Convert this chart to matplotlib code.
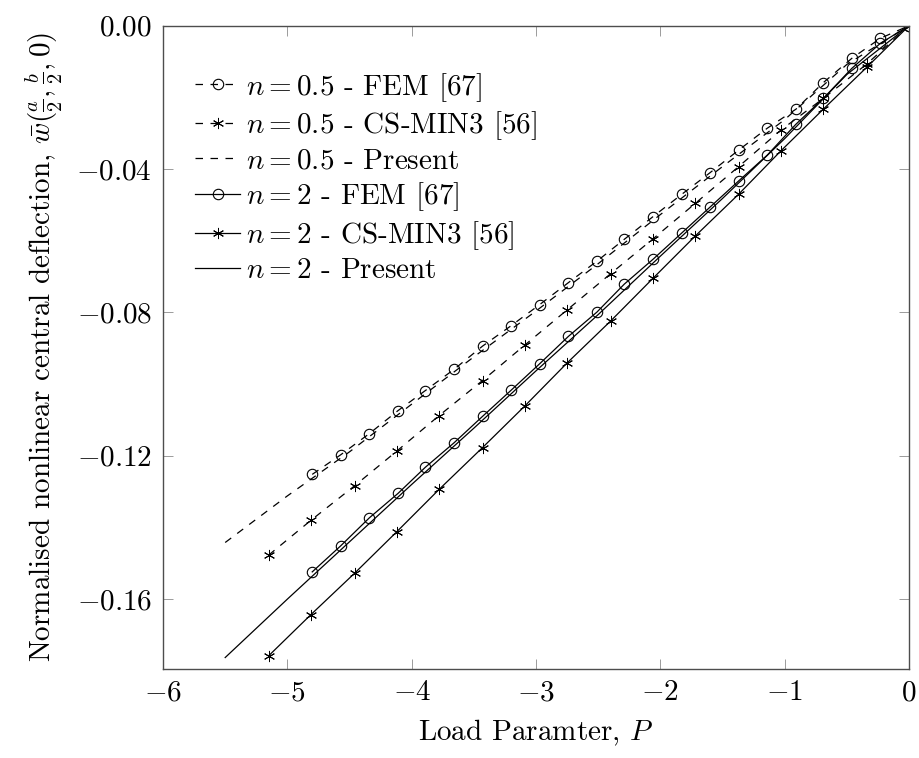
import matplotlib
matplotlib.use("Agg")
import matplotlib.pyplot as plt
from matplotlib.ticker import FuncFormatter

plt.rcParams["font.family"] = "serif"
plt.rcParams["font.serif"] = ["cmr10"]
plt.rcParams["mathtext.fontset"] = "cm"
plt.rcParams["axes.formatter.use_mathtext"] = True

# load parameter for FEM [67] points
p_fem = [-4.8, -4.57, -4.34, -4.11, -3.89, -3.66, -3.43, -3.2, -2.97, -2.74, -2.51,
         -2.29, -2.06, -1.83, -1.6, -1.37, -1.14, -0.91, -0.69, -0.46, -0.23, 0.0]
w_fem_05 = [-0.1252, -0.1197, -0.1138, -0.1074, -0.1018, -0.0959, -0.0894, -0.0837,
            -0.0778, -0.0717, -0.0657, -0.0596, -0.0533, -0.0471, -0.0410, -0.0347,
            -0.0286, -0.0233, -0.0159, -0.0091, -0.0035, 0.0]
w_fem_2 = [-0.1524, -0.1451, -0.1373, -0.1305, -0.1232, -0.1164, -0.1090, -0.1017,
           -0.0943, -0.0867, -0.0799, -0.0721, -0.0652, -0.0579, -0.0506, -0.0433,
           -0.0361, -0.0275, -0.0203, -0.0119, -0.0049, 0.0]

# load parameter for CS-MIN3 [56] points
p_cs = [-5.15, -4.81, -4.46, -4.12, -3.78, -3.43, -3.09, -2.75, -2.40, -2.06, -1.72,
        -1.37, -1.03, -0.69, -0.34, 0.0]
w_cs_05 = [-0.1477, -0.1380, -0.1284, -0.1187, -0.1088, -0.0990, -0.0891, -0.0793,
           -0.0692, -0.0595, -0.0496, -0.0393, -0.0291, -0.0203, -0.0107, 0.0]
w_cs_2 = [-0.1758, -0.1643, -0.1528, -0.1412, -0.1294, -0.1177, -0.1061, -0.0941,
          -0.0824, -0.0705, -0.0587, -0.0470, -0.0349, -0.0233, -0.0116, 0.0]

# present solution
p_present = [-5.5, -5.0, -4.5, -4.0, -3.5, -3.0, -2.5, -2.0, -1.5, -1.0, -0.5, 0.0]
w_present_05 = [-0.1442, -0.1312, -0.1189, -0.1056, -0.0924, -0.0796, -0.0664,
                -0.0527, -0.0393, -0.0262, -0.0108, 0.0]
w_present_2 = [-0.1763, -0.1600, -0.1440, -0.1280, -0.1123, -0.0963, -0.0806,
               -0.0643, -0.0482, -0.0315, -0.0136, 0.0]

FS = 21

fig = plt.figure(figsize=(9.2, 7.58), dpi=100)
ax = fig.add_axes([0.1772, 0.1174, 0.8109, 0.8487])

lw = 0.9
dash = (6, 6)
star = (6, 2, 0)
circ = dict(marker="o", markersize=7.5, markerfacecolor="none", markeredgecolor="black",
            markeredgewidth=0.8)
ast = dict(marker=star, markersize=8, markeredgecolor="black", markeredgewidth=0.7)

ax.plot(p_fem, w_fem_05, color="black", lw=lw, dashes=dash,
        label=r"$n = 0.5$ - FEM [67]", **circ)
ax.plot(p_cs, w_cs_05, color="black", lw=lw, dashes=dash,
        label=r"$n = 0.5$ - CS-MIN3 [56]", **ast)
ax.plot(p_present, w_present_05, color="black", lw=lw, dashes=dash,
        label=r"$n = 0.5$ - Present")
ax.plot(p_fem, w_fem_2, color="black", lw=lw, label=r"$n = 2$ - FEM [67]", **circ)
ax.plot(p_cs, w_cs_2, color="black", lw=lw, label=r"$n = 2$ - CS-MIN3 [56]", **ast)
ax.plot(p_present, w_present_2, color="black", lw=lw, label=r"$n = 2$ - Present")

ax.set_xlim(-6, 0)
ax.set_ylim(-0.1795, 0)
ax.set_xticks([-6, -5, -4, -3, -2, -1, 0])
ax.set_yticks([-0.16, -0.12, -0.08, -0.04, 0.0])
ax.xaxis.set_major_formatter(FuncFormatter(lambda v, _: f"${int(round(v))}$"))
ax.yaxis.set_major_formatter(
    FuncFormatter(lambda v, _: "$0.00$" if abs(v) < 1e-9 else f"${v:.2f}$"))
ax.tick_params(direction="in", length=7.5, width=0.6, color="0.55", top=True, right=True,
               labelsize=FS, pad=8)
for s in ax.spines.values():
    s.set_color("0.3")
    s.set_linewidth(1.0)

ax.set_xlabel(r"Load Paramter, $P$", fontsize=FS, labelpad=8)
ax.set_ylabel(r"Normalised nonlinear central deflection, $\bar{w}(\frac{a}{2},\frac{b}{2},0)$",
              fontsize=FS, labelpad=8)

ax.legend(loc="upper left", bbox_to_anchor=(0.043, 0.93), frameon=False, fontsize=FS,
          handlelength=1.55, handletextpad=0.2, labelspacing=0.2, borderaxespad=0.0,
          borderpad=0.0)

fig.savefig("out.png", dpi=100)
